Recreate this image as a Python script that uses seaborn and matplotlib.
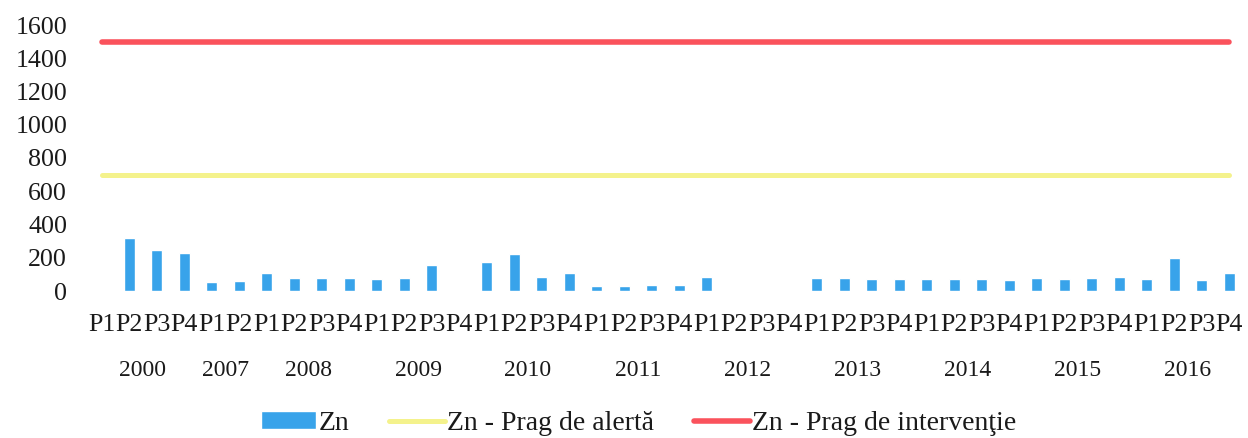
import numpy as np
import pandas as pd
import matplotlib
matplotlib.use("Agg")
import matplotlib.pyplot as plt
import matplotlib.transforms as mtransforms
import seaborn as sns

# ---- data ----
years = ["2000", "2007", "2008", "2009", "2010", "2011", "2012", "2013", "2014", "2015", "2016"]
periods_per_year = [4, 2, 4, 4, 4, 4, 4, 4, 4, 4, 4]
period_labels = ["P1", "P2", "P3", "P4"]

zn_values = [
    np.nan, 320, 246, 228,          # 2000
    56, 60,                         # 2007
    110, 76, 80, 77,                # 2008
    70, 80, 156, np.nan,            # 2009
    176, 224, 84, 110,              # 2010
    30, 30, 36, 36,                 # 2011
    84, np.nan, np.nan, np.nan,     # 2012
    78, 78, 74, 74,                 # 2013
    70, 70, 70, 64,                 # 2014
    80, 74, 80, 84,                 # 2015
    74, 200, 66, 110,               # 2016
]
alert_threshold = 700
intervention_threshold = 1500

# ---- build table ----
cat_year, cat_period = [], []
for y, k in zip(years, periods_per_year):
    for p in period_labels[:k]:
        cat_year.append(y)
        cat_period.append(p)
cat_keys = [f"{y} {p}" for y, p in zip(cat_year, cat_period)]
n = len(cat_keys)
df = pd.DataFrame({"cat": cat_keys, "Zn": zn_values})
alert_line = [alert_threshold] * n
interv_line = [intervention_threshold] * n

# ---- style ----
sns.set_theme(style="white")
plt.rcParams["font.family"] = ["Liberation Serif", "DejaVu Serif"]
FS = 18.7
TXT = "#1a1a1a"

fig = plt.figure(figsize=(12.48, 4.38), dpi=100)
ax = fig.add_axes([88 / 1248, 1 - 291 / 438, (1243 - 88) / 1248, (291 - 25) / 438])

sns.barplot(data=df.dropna(), x="cat", y="Zn", order=cat_keys, color="#38A3EA",
            saturation=1, width=0.4, ax=ax, label="Zn", errorbar=None)
sns.lineplot(x=np.arange(n), y=alert_line, color="#F4F28C", linewidth=3.6, ax=ax,
             label="Zn - Prag de alertă")
sns.lineplot(x=np.arange(n), y=interv_line, color="#FA525C", linewidth=4.0, ax=ax,
             label="Zn - Prag de intervenţie")

ax.set_xlim(-0.5, n - 0.5)
ax.set_ylim(0, 1600)
ax.set_yticks(np.arange(0, 1601, 200))
ax.set_xticks(np.arange(n))
ax.set_xticklabels(cat_period)
ax.set_xlabel("")
ax.set_ylabel("")
ax.tick_params(axis="x", length=0, pad=16.5, labelsize=FS, colors=TXT)
ax.tick_params(axis="y", length=0, pad=15, labelsize=FS, colors=TXT)
for s in ax.spines.values():
    s.set_visible(False)
ax.grid(False)

# year group labels
trans = mtransforms.blended_transform_factory(ax.transData, fig.transFigure)
start = 0
for y, k in zip(years, periods_per_year):
    center = start + (k - 1) / 2
    ax.text(center, 1 - 370 / 438, y, transform=trans, ha="center", va="center",
            fontsize=17, color=TXT)
    start += k

handles, labels = ax.get_legend_handles_labels()
if ax.get_legend() is not None:
    ax.get_legend().remove()
order = [labels.index("Zn"), labels.index("Zn - Prag de alertă"),
         labels.index("Zn - Prag de intervenţie")]
leg = fig.legend([handles[i] for i in order], [labels[i] for i in order],
                 loc="center", bbox_to_anchor=(638.5 / 1248, 14.5 / 438),
                 ncol=3, frameon=False, fontsize=20, handlelength=2.0, handleheight=0.6,
                 handletextpad=0.08, columnspacing=1.45)
for t in leg.get_texts():
    t.set_color(TXT)

fig.savefig("out.png", dpi=100)
